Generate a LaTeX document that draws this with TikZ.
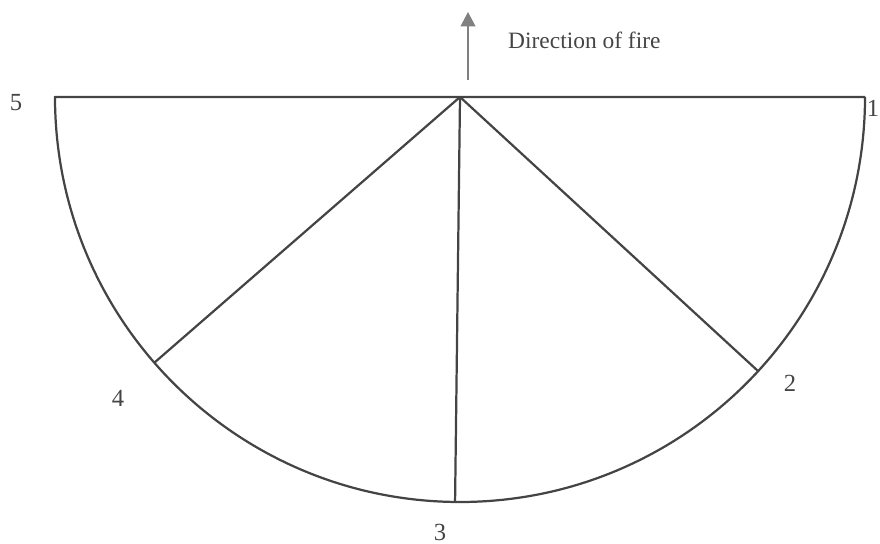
\documentclass[tikz,border=0pt]{standalone}
\usepackage{fontspec}
\setmainfont{Liberation Serif}
\usetikzlibrary{arrows.meta, calc}
\definecolor{fanLine}{HTML}{444444}
\definecolor{fanArrow}{HTML}{808080}
\definecolor{fanText}{HTML}{454545}
\tikzset{
  % scanned-drawing look: dark grey strokes, serif labels
  fanline/.style  = {fanLine, line width=1.9pt, line join=round},
  firearrow/.style = {-{Triangle[length=4.3mm, width=4.4mm]}, fanArrow, line width=1.5pt},
  ptlbl/.style    = {font=\fontsize{21}{24}\selectfont, text=fanText, inner sep=0pt},
  dirlbl/.style   = {font=\fontsize{20}{24}\selectfont, text=fanText, inner sep=0pt, anchor=west},
}

\begin{document}
\begin{tikzpicture}[x=0.03cm,y=0.03cm]
  \useasboundingbox (0,0) rectangle (880,544);
  % rim of the fan and its centre
  \coordinate (apex) at (460,447);
  \coordinate (rimL) at (55,447);
  \coordinate (rimR) at (865,447);
  \coordinate (p4) at ($(apex)+(221:405)$);
  \coordinate (p3) at ($(apex)+(269.3:405)$);
  \coordinate (p2) at ($(apex)+(317.4:405)$);
  \draw[fanline] (rimR) -- (rimL) arc[start angle=180, end angle=360, radius=405];
  % spokes
  \foreach \p in {p4,p3,p2}
    \draw[fanline] (apex) -- (\p);
  % direction of fire
  \coordinate (firebase) at (468,464);
  \coordinate (firetip) at (468,532);
  \draw[firearrow] (firebase) -- (firetip);
  \node[dirlbl] (firelbl) at (508,504) {Direction of fire};
  % point numbers
  \node[ptlbl] (lab5) at (16,441) {5};
  \node[ptlbl] (lab1) at (873,436) {1};
  \node[ptlbl] (lab4) at (118,146) {4};
  \node[ptlbl] (lab3) at (440,12) {3};
  \node[ptlbl] (lab2) at (790,161) {2};
\end{tikzpicture}
\end{document}
